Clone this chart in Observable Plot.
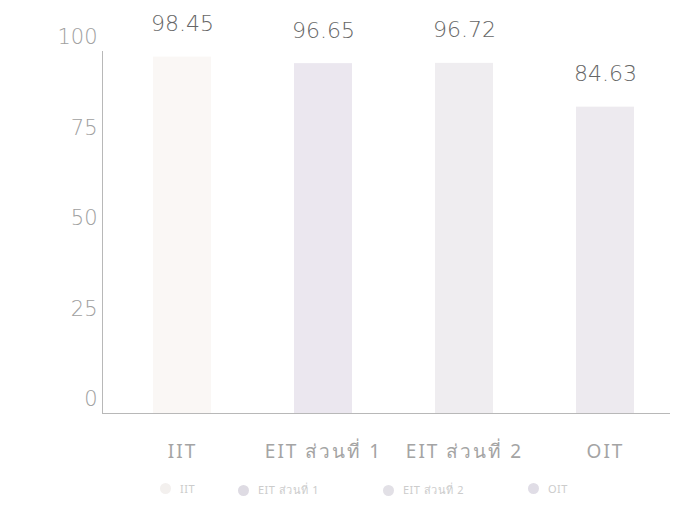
<!DOCTYPE html>
<html><head><meta charset="utf-8">
<script src="https://cdn.jsdelivr.net/npm/d3@7"></script>
<script src="https://cdn.jsdelivr.net/npm/@observablehq/plot@0.6"></script>
<style>
body{margin:0;background:#fff;font-family:"Noto Sans",sans-serif;}
svg g[aria-label="x-axis tick label"] text{letter-spacing:2px;}
#legend{position:relative;height:53px;font-size:11px;color:#cccccc;letter-spacing:0.5px;}
#legend span.item{position:absolute;top:11px;display:inline-flex;align-items:center;}
#legend span.dot{width:11px;height:11px;border-radius:50%;display:inline-block;margin-right:9px;}
</style></head>
<body>
<div id="chart"></div>
<div id="legend"></div>
<script>
const categories = ["IIT", "EIT ส่วนที่ 1", "EIT ส่วนที่ 2", "OIT"];
const values = [98.45, 96.65, 96.72, 84.63];
const colors = ["#faf7f5", "#ebe7ef", "#efedf0", "#edeaef"];
const legendColors = ["#f3f0ee", "#dedbe3", "#e2e0e6", "#e0dde6"];
const yTicks = [0, 25, 50, 75, 100];

const data = categories.map((c, i) => ({cat: c, value: values[i]}));

const plot = Plot.plot({
  width: 674,
  height: 470,
  marginLeft: 102,
  marginRight: 4,
  marginTop: 51,
  marginBottom: 57,
  style: {fontFamily: "Noto Sans, sans-serif", background: "#fff"},
  x: {domain: categories, paddingInner: 0.59, paddingOuter: 0.3, align: 0.58, label: null},
  y: {domain: [0, 100], label: null},
  color: {domain: categories, range: colors},
  marks: [
    Plot.barY(data, {x: "cat", y: "value", fill: "cat"}),
    Plot.axisY({ticks: yTicks, tickSize: 0, tickPadding: 5, dy: -14, fontSize: 21, fontFamily: "DejaVu Sans", fontWeight: 200, fill: "#a0a0a0", label: null}),
    Plot.axisX({tickSize: 0, tickPadding: 31, fontSize: 19, fill: "#a4a4a4", label: null}),
    Plot.ruleY([0], {stroke: "#b8b8b8"}),
    Plot.frame({anchor: "left", stroke: "#b8b8b8"}),
    Plot.text(data, {x: "cat", y: "value", text: d => d.value.toFixed(2), dy: -33, fontSize: 22, fontFamily: "DejaVu Sans", fontWeight: 200, fill: "#666"})
  ]
});
document.getElementById("chart").appendChild(plot);

const legendLeft = [160, 238, 383, 528];
const lg = document.getElementById("legend");
categories.forEach((c, i) => {
  const it = document.createElement("span");
  it.className = "item";
  it.style.left = legendLeft[i] + "px";
  const dot = document.createElement("span");
  dot.className = "dot";
  dot.style.background = legendColors[i];
  it.appendChild(dot);
  it.appendChild(document.createTextNode(c));
  lg.appendChild(it);
});
</script>
</body></html>
